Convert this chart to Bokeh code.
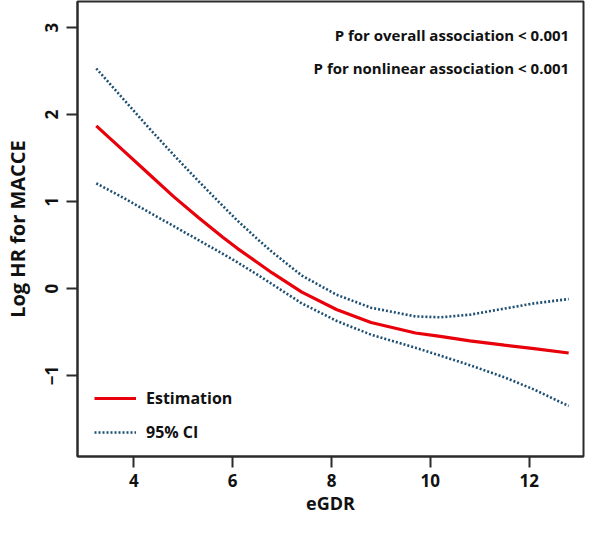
from bokeh.plotting import figure
from bokeh.models import Range1d, Label, Legend, LegendItem, FixedTicker
from bokeh.embed import file_html
from bokeh.resources import INLINE

# eGDR grid
egdr = [3.24, 3.8, 4.3, 4.8, 5.3, 5.8, 6.1, 6.5, 6.8, 7.4, 8.1, 8.8, 9.7, 10.2, 10.8, 11.5, 12.1, 12.8]
estimate = [1.87, 1.58, 1.32, 1.06, 0.82, 0.59, 0.46, 0.30, 0.18, -0.04, -0.24, -0.39, -0.51, -0.55, -0.60, -0.65, -0.69, -0.74]
ci_upper = [2.53, 2.17, 1.85, 1.54, 1.24, 0.95, 0.78, 0.57, 0.42, 0.15, -0.07, -0.22, -0.32, -0.33, -0.30, -0.23, -0.17, -0.12]
ci_lower = [1.21, 1.04, 0.88, 0.72, 0.56, 0.40, 0.30, 0.16, 0.05, -0.17, -0.37, -0.53, -0.68, -0.77, -0.88, -1.02, -1.16, -1.35]

x_ticks = [4, 6, 8, 10, 12]
y_ticks = [-1, 0, 1, 2, 3]
p_texts = ["P for overall association < 0.001", "P for nonlinear association < 0.001"]

FONT = "Open Sans"
DARK = "#2b2b2b"
RED = "#e8000b"
BLUE = "#1d4f73"

p = figure(width=585, height=518, output_backend="svg", toolbar_location=None,
           x_range=Range1d(2.86, 13.1), y_range=Range1d(-1.93, 3.30))
p.min_border_left = 69
p.min_border_right = 2
p.min_border_top = 1
p.min_border_bottom = 62
p.xgrid.visible = False
p.ygrid.visible = False
p.outline_line_color = DARK
p.outline_line_width = 2
p.outline_line_alpha = 1
p.background_fill_color = "white"
p.border_fill_color = "white"

for ax in (p.xaxis[0], p.yaxis[0]):
    ax.axis_line_color = DARK
    ax.axis_line_width = 2
    ax.major_tick_line_color = DARK
    ax.major_tick_line_width = 2
    ax.major_tick_out = 11
    ax.major_tick_in = 0
    ax.minor_tick_line_color = None
    ax.major_label_text_font = FONT
    ax.major_label_text_font_style = "bold"
    ax.major_label_text_font_size = "17px"
    ax.major_label_text_color = "#111111"
    ax.axis_label_text_font = FONT
    ax.axis_label_text_font_style = "bold"
    ax.axis_label_text_color = "#111111"

p.xaxis.ticker = FixedTicker(ticks=x_ticks)
p.yaxis.ticker = FixedTicker(ticks=y_ticks)
p.xaxis.major_label_standoff = 6
p.yaxis.major_label_standoff = 8
p.yaxis.major_label_orientation = "vertical"
p.xaxis.axis_label = "eGDR"
p.xaxis.axis_label_text_font_size = "18px"
p.xaxis.axis_label_standoff = 1
p.yaxis.axis_label = "Log HR for MACCE"
p.yaxis.axis_label_text_font_size = "20px"
p.yaxis.axis_label_standoff = 12

r_up = p.line(egdr, ci_upper, line_color=BLUE, line_width=2.6, line_dash="2 2")
r_lo = p.line(egdr, ci_lower, line_color=BLUE, line_width=2.6, line_dash="2 2")
r_est = p.line(egdr, estimate, line_color=RED, line_width=3.2)

for txt, yy in zip(p_texts, [2.91, 2.53]):
    p.add_layout(Label(x=12.81, y=yy, text=txt, text_align="right", text_baseline="middle",
                       text_font=FONT, text_font_style="bold", text_font_size="15px",
                       text_color="#111111"))

legend = Legend(items=[LegendItem(label="Estimation", renderers=[r_est]),
                       LegendItem(label="95% CI", renderers=[r_up])],
                location=(11, 7), background_fill_alpha=0, border_line_alpha=0,
                label_text_font=FONT, label_text_font_style="bold",
                label_text_font_size="16px", label_text_color="#111111",
                glyph_width=42, glyph_height=20, spacing=12, label_standoff=10,
                padding=6, margin=0)
p.add_layout(legend)

open("out.html", "w").write(file_html(p, INLINE))
